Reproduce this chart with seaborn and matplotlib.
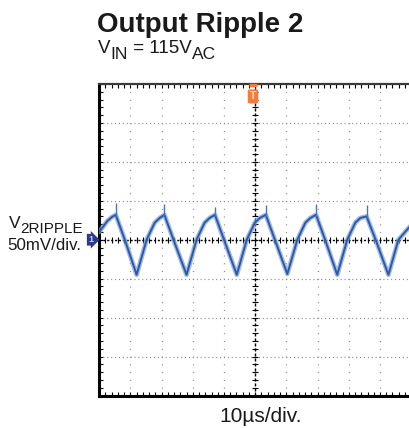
import numpy as np
import pandas as pd
import matplotlib
matplotlib.use('Agg')
import matplotlib.pyplot as plt
from matplotlib.ticker import MultipleLocator
import seaborn as sns

# waveform (time in us, ripple in mV)
t_us = [0.0, 2.6, 4.0, 5.3,
        8.2, 12.0,
        15.2, 17.8, 19.4, 20.9,
        23.8, 28.0,
        31.2, 33.8, 35.4, 37.1,
        40.0, 44.1,
        47.3, 49.9, 51.5, 53.4,
        56.3, 60.3,
        63.5, 66.1, 67.7, 69.5,
        72.4, 76.3,
        79.5, 82.1, 83.7, 85.7,
        88.6, 92.7,
        95.9, 100.0]
ripple_mv = [10, 24, 29, 32,
             0, -45,
             0, 22, 28, 32,
             0, -45,
             0, 22, 28, 32,
             0, -45,
             0, 22, 28, 32,
             0, -44,
             0, 22, 28, 32,
             0, -45,
             0, 22, 28, 30,
             0, -45,
             0, 19]

# switching spikes on top of each peak
spike_t = [5.3, 20.9, 37.1, 53.4, 69.5, 85.7]
spike_base = [30, 30, 30, 30, 30, 28]
spike_top = [47, 46, 42, 45, 46, 45]

x_lim = [0, 100]     # 10 div x 10us
y_lim = [-200, 200]  # 8 div x 50mV
title = 'Output Ripple 2'
x_label = '10\u00b5s/div.'

df = pd.DataFrame({'t': t_us, 'v': ripple_mv})

sns.set_style('white')
plt.rcParams['font.family'] = ['Liberation Sans', 'DejaVu Sans']
plt.rcParams['text.color'] = '#1a1a1a'
plt.rcParams['lines.scale_dashes'] = False

W, H = 409, 428
fig = plt.figure(figsize=(W / 100, H / 100), dpi=100)
ax = fig.add_axes([99.2 / W, (H - 395.5) / H, 312 / W, 311.5 / H])

# graticule
grid_c = '#8a8a8a'
for xv in range(10, 100, 10):
    if xv == 50:
        continue
    ax.axvline(xv, color=grid_c, lw=0.9, ls=(0, (0.75, 4.85)), zorder=1)
for yv in range(-150, 200, 50):
    if yv == 0:
        continue
    ax.axhline(yv, color=grid_c, lw=0.9, ls=(0, (0.75, 2.05)), zorder=1)
ax.axhline(0, color='black', lw=1.0, ls=(0, (1.5, 1.3)), zorder=1)
ax.axvline(50, color='black', lw=1.0, ls=(0, (2.2, 1.4)), zorder=1)
ax.plot(np.arange(0, 101, 2), np.zeros(51), ls='none', marker='|',
        ms=4, mew=0.8, color='black', zorder=1)
ax.plot(np.full(41, 50), np.arange(-200, 201, 10), ls='none', marker='_',
        ms=4, mew=0.8, color='black', zorder=1)

# trace: fuzzy halo + core + thin spikes
sns.lineplot(data=df, x='t', y='v', sort=False, estimator=None, ax=ax,
             color='#7d9fd8', lw=3.4, alpha=0.7, zorder=3)
sns.lineplot(data=df, x='t', y='v', sort=False, estimator=None, ax=ax,
             color='#2c5aa8', lw=1.4, zorder=4)
ax.vlines(spike_t, spike_base, spike_top, color='#4a74c0', lw=1.0, zorder=4)

ax.set_xlim(x_lim)
ax.set_ylim(y_lim)
ax.set_xlabel('')
ax.set_ylabel('')
ax.xaxis.set_major_locator(MultipleLocator(10))
ax.xaxis.set_minor_locator(MultipleLocator(2))
ax.yaxis.set_major_locator(MultipleLocator(50))
ax.yaxis.set_minor_locator(MultipleLocator(10))
ax.tick_params(which='both', direction='in', top=True, bottom=True,
               left=True, right=False, labelbottom=False, labelleft=False,
               length=3, width=0.8, color='black')

for s in ['left', 'bottom']:
    ax.spines[s].set_linewidth(2.2)
    ax.spines[s].set_color('black')
ax.spines['top'].set_linewidth(1.6)
ax.spines['top'].set_color('#3a3a3a')
ax.spines['right'].set_visible(False)

# channel 1 marker and trigger marker
ax.annotate('1', xy=(-0.027, 0), xycoords=('axes fraction', 'data'),
            ha='center', va='center', fontsize=6.5, color='#c8cfee',
            fontweight='bold', annotation_clip=False, zorder=6,
            bbox=dict(boxstyle='rarrow,pad=0.15', fc='#2b3990', ec='none'))
ax.annotate('T', xy=(49.3, 184), xycoords='data', ha='center', va='center',
            fontsize=7.5, color='#fde3d3', fontweight='bold',
            annotation_clip=False, zorder=6,
            bbox=dict(boxstyle='round,pad=0.2', fc='#f47b3a', ec='none'))
ax.plot([49.3], [199], marker='_', ms=6, mew=2.5, color='#f47b3a',
        clip_on=False, zorder=6)

# titles
fig.text(97 / W, (H - 32) / H, title, fontsize=20, fontweight='bold',
         va='baseline', ha='left')
t1 = fig.text(98 / W, (H - 53.3) / H, 'V', fontsize=13.5, va='baseline')
t2 = ax.annotate('IN', xy=(1, H - 59.3), xycoords=(t1, 'figure pixels'),
                 fontsize=12.5, va='baseline', annotation_clip=False)
t3 = ax.annotate(' = 115V', xy=(1, H - 53.3), xycoords=(t2, 'figure pixels'),
                 fontsize=13.5, va='baseline', annotation_clip=False)
ax.annotate('AC', xy=(1, H - 59.3), xycoords=(t3, 'figure pixels'),
            fontsize=12.5, va='baseline', annotation_clip=False)

# channel label on the left
l1 = fig.text(9 / W, (H - 228.3) / H, 'V', fontsize=12.5, va='baseline')
ax.annotate('2RIPPLE', xy=(1, H - 233.3), xycoords=(l1, 'figure pixels'),
            fontsize=11, va='baseline', annotation_clip=False)
fig.text(7.5 / W, (H - 250) / H, '50mV/div.', fontsize=12.2, va='baseline')

fig.text(260.5 / W, (H - 421.7) / H, x_label, fontsize=15, va='baseline',
         ha='center')

plt.savefig('out.png', dpi=100)
